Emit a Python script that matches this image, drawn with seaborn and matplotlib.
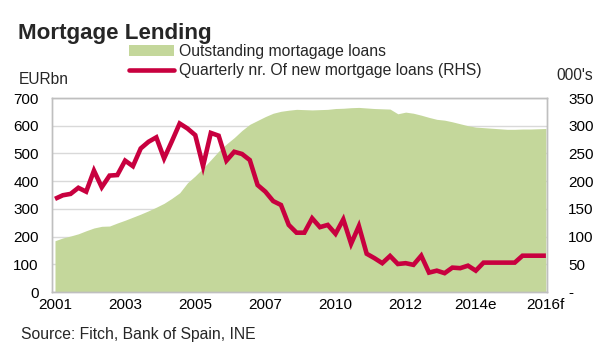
import numpy as np
import pandas as pd
import matplotlib
matplotlib.use("Agg")
import matplotlib.pyplot as plt
import seaborn as sns
from matplotlib.patches import Patch
from matplotlib.lines import Line2D

# ---- data (quarterly, 2001Q1 .. 2016Q4) ----
outstanding = [185, 195, 202, 210, 221, 231, 237, 238, 249, 259,
               270, 281, 293, 306, 320, 338, 358, 394, 419, 447,
               477, 508, 534, 557, 583, 605, 619, 633, 645, 652,
               656, 659, 658, 657, 658, 659, 662, 663, 665, 666,
               664, 662, 661, 660, 643, 649, 645, 638, 630, 623,
               620, 614, 607, 600, 595, 593, 591, 589, 587, 587,
               588, 588, 589, 590]
new_loans = [168, 174.5, 177, 188, 181, 219, 189, 210, 211, 237,
             227, 259, 271, 279, 241, 272, 304, 295, 283, 227,
             287, 282, 237, 253, 249, 238, 193, 181, 164, 157,
             121, 107, 107, 133, 117, 121, 105, 131, 87, 119,
             69, 61, 52, 65, 50.5, 52, 49, 65.5, 35, 38.5,
             34, 44, 43, 47.5, 38.5, 53, 53, 53, 53, 53,
             65.5, 65.5, 65.5, 65.5]
tick_labels = ["2001", "2003", "2005", "2007", "2010", "2012", "2014e", "2016f"]
tick_every = 9
left_ticks = [0, 100, 200, 300, 400, 500, 600, 700]
right_ticks = [0, 50, 100, 150, 200, 250, 300, 350]
right_tick_labels = ["-", "50", "100", "150", "200", "250", "300", "350"]
legend_labels = ["Outstanding mortagage loans", "Quarterly nr. Of new mortgage loans (RHS)"]

df = pd.DataFrame({"q": np.arange(len(outstanding)),
                   "outstanding": outstanding,
                   "new_loans": new_loans})

GREEN = "#C4D79B"
RED = "#C8003F"
GRID = "#D9D9D9"
FRAME = "#BFBFBF"

sns.set_theme(style="white")
plt.rcParams["font.family"] = ["Liberation Sans", "DejaVu Sans"]

fig = plt.figure(figsize=(6.04, 3.54), dpi=100)
ax = fig.add_axes([52/604, 1-292/354, (547.3-52)/604, (292-98)/354])
ax2 = ax.twinx()

ax.fill_between(df["q"], df["outstanding"], 0, color=GREEN, linewidth=0, zorder=2)
sns.lineplot(data=df, x="q", y="new_loans", ax=ax2, color=RED, linewidth=3.3,
             solid_joinstyle="miter", solid_capstyle="butt")

ax.set_xlim(-0.385, len(outstanding) - 1 + 0.18)
ax.set_ylim(0, 700)
ax2.set_ylim(0, 350)
ax.set_yticks(left_ticks)
ax.set_yticklabels([str(v) for v in left_ticks])
ax2.set_yticks(right_ticks)
ax2.set_yticklabels(right_tick_labels)
ax.set_xticks(np.arange(0, len(outstanding), tick_every))
ax.set_xticklabels(tick_labels)

ax.set_axisbelow(True)
ax.yaxis.grid(True, color=GRID, linewidth=1.0, zorder=0)
ax.xaxis.grid(False)
ax2.grid(False)
for a in (ax, ax2):
    a.set_xlabel("")
    a.set_ylabel("")
    for s in a.spines.values():
        s.set_color(FRAME)
        s.set_linewidth(1.0)

ax.tick_params(axis="y", length=0, pad=9.5, labelsize=11, colors="black")
ax.tick_params(axis="x", length=0, pad=4.0, labelsize=11, colors="black")
ax2.tick_params(axis="y", length=0, pad=15, labelsize=11, colors="black")

fig.text(18/604, 1-34/354, "Mortgage Lending", fontsize=16.1, fontweight="bold",
         ha="left", va="center")
fig.text(19/604, 1-79/354, "EURbn", fontsize=11.2, ha="left", va="center")
fig.text(593/604, 1-76/354, "000's", fontsize=11.2, ha="right", va="center")
fig.text(21/604, 1-334/354, "Source: Fitch, Bank of Spain, INE", fontsize=11.3,
         ha="left", va="center")

handles = [Patch(facecolor=GREEN, edgecolor="none"),
           Line2D([0], [0], color=RED, linewidth=3.3)]
fig.legend(handles, legend_labels, loc="upper left",
           bbox_to_anchor=(129/604, 1-44/354), frameon=False, fontsize=11.3,
           handlelength=2.85, handleheight=0.65, handletextpad=0.33,
           labelspacing=0.27, borderpad=0, borderaxespad=0)

fig.savefig("out.png", dpi=100)
